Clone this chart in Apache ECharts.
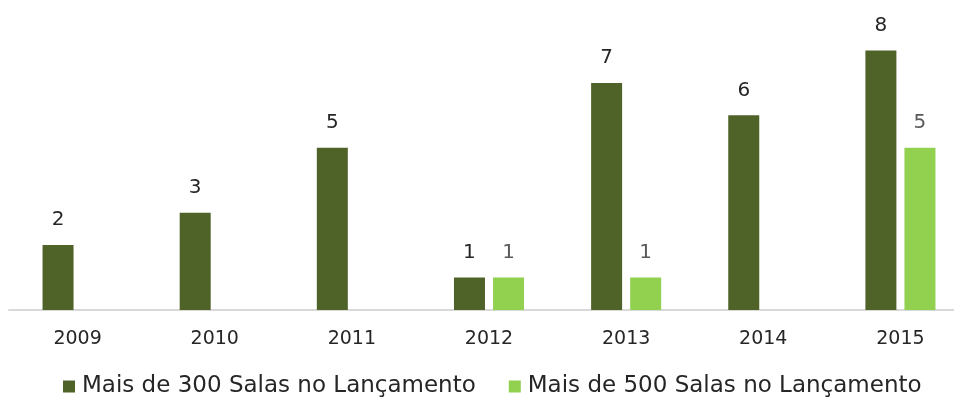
<!DOCTYPE html>
<html>
<head>
<meta charset="utf-8">
<script src="https://cdn.jsdelivr.net/npm/echarts@6/dist/echarts.min.js"></script>
<style>html,body{margin:0;padding:0;background:#fff;overflow:hidden;width:954px;height:406px}#c{width:970px;height:406px}</style>
</head>
<body>
<div id="c"></div>
<script>
const categories = ['2009','2010','2011','2012','2013','2014','2015'];
const series300 = [2, 3, 5, 1, 7, 6, 8];
const series500 = [null, null, null, 1, 1, null, 5];
const seriesNames = ['Mais de 300 Salas no Lançamento', 'Mais de 500 Salas no Lançamento'];

const FONT = 'DejaVu Sans';
const chart = echarts.init(document.getElementById('c'), null, {renderer: 'canvas'});
chart.setOption({
  animation: false,
  textStyle: {fontFamily: FONT},
  grid: {left: 9, right: 1, top: 18, bottom: 96, containLabel: false},
  legend: {
    bottom: 3, left: 58,
    itemWidth: 12, itemHeight: 12, itemGap: 33,
    icon: 'rect',
    textStyle: {fontFamily: FONT, fontSize: 23, color: '#262626', padding: [0, 0, 0, 2]},
    data: seriesNames
  },
  xAxis: {
    type: 'category', data: categories,
    axisLine: {lineStyle: {color: '#d9d9d9', width: 2}},
    axisTick: {show: false},
    axisLabel: {fontFamily: FONT, fontSize: 19, color: '#262626', margin: 20}
  },
  yAxis: {type: 'value', min: 0, max: 9, show: false, splitLine: {show: false}},
  series: [
    {name: seriesNames[0], type: 'bar', data: series300, barWidth: 31, barGap: '26%',
     itemStyle: {color: '#4f6228'},
     label: {show: true, position: 'top', distance: 15, fontFamily: FONT, fontSize: 20, color: '#262626'}},
    {name: seriesNames[1], type: 'bar', data: series500, barWidth: 31, barGap: '26%',
     itemStyle: {color: '#92d050'},
     label: {show: true, position: 'top', distance: 15, fontFamily: FONT, fontSize: 20, color: '#595959'}}
  ]
});
</script>
</body>
</html>
